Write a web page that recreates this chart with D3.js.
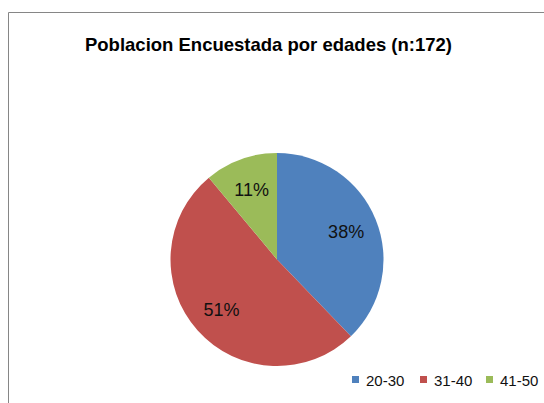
<!DOCTYPE html>
<html>
<head>
<meta charset="utf-8">
<script src="https://cdn.jsdelivr.net/npm/d3@7"></script>
<style>
  body { margin: 0; background: #fff; }
  svg { display: block; font-family: "Liberation Sans", Arial, sans-serif; }
</style>
</head>
<body>
<svg width="544" height="403"></svg>
<script>
const categories = ["20-30", "31-40", "41-50"];
const values = [65, 88, 19];
const colors = ["#4F81BD", "#C0504D", "#9BBB59"];

const svg = d3.select("svg");
const cx = 277, cy = 259.5, radius = 106.5;

// chart area border (cropped on right/bottom)
svg.append("path")
  .attr("d", "M8.5,403 V12.5 H544")
  .attr("fill", "none")
  .attr("stroke", "#868686")
  .attr("stroke-width", 1);

svg.append("text")
  .attr("x", 268.5)
  .attr("y", 51)
  .attr("text-anchor", "middle")
  .attr("font-weight", "bold")
  .attr("font-size", "18.5px")
  .text("Poblacion Encuestada por edades (n:172)");

const data = categories.map((c, i) => ({ cat: c, value: values[i] }));
const total = d3.sum(values);

const pie = d3.pie().value(d => d.value).sort(null);
const arc = d3.arc().innerRadius(0).outerRadius(radius);
const labelArc = d3.arc().innerRadius(radius * 0.7).outerRadius(radius * 0.7);
const color = d3.scaleOrdinal().domain(categories).range(colors);

const g = svg.append("g").attr("transform", `translate(${cx},${cy})`);
const arcs = pie(data);

g.selectAll("path")
  .data(arcs)
  .enter()
  .append("path")
  .attr("d", arc)
  .attr("fill", d => color(d.data.cat));

g.selectAll("text")
  .data(arcs)
  .enter()
  .append("text")
  .attr("transform", d => `translate(${labelArc.centroid(d)})`)
  .attr("text-anchor", "middle")
  .attr("dy", "0.35em")
  .attr("font-size", "18px")
  .attr("fill", "#111")
  .text(d => Math.round(d.data.value / total * 100) + "%");

// Legend
const legendX = [352, 420, 486];
const legend = svg.append("g");
categories.forEach((c, i) => {
  const row = legend.append("g").attr("transform", `translate(${legendX[i]},380)`);
  row.append("rect")
    .attr("x", 0).attr("y", -4)
    .attr("width", 7).attr("height", 7)
    .attr("fill", color(c));
  row.append("text")
    .attr("x", 14)
    .attr("y", 5.5)
    .attr("font-size", "15px")
    .attr("fill", "#111")
    .text(c);
});
</script>
</body>
</html>
